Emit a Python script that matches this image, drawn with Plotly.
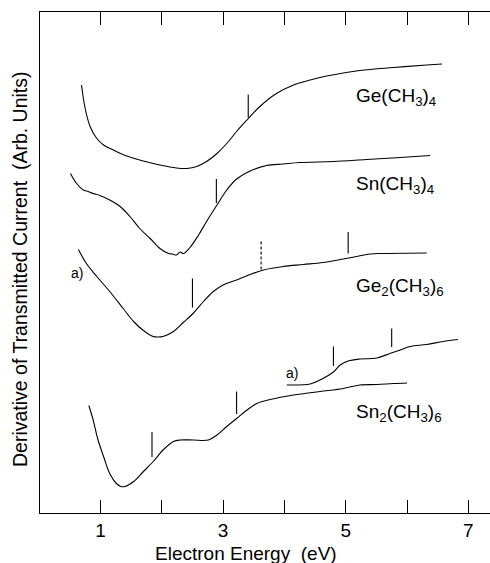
import plotly.graph_objects as go

# ---------------- data (energy in eV, signal in arbitrary units) ----------------
ge_me4_x = [0.69, 0.75, 0.83, 0.94, 1.05, 1.21, 1.43, 1.70, 1.97, 2.24, 2.41, 2.57, 2.73, 2.90,
            3.06, 3.22, 3.39, 3.60, 3.87, 4.15, 4.42, 4.69, 5.23, 5.78, 6.32, 6.57]
ge_me4_y = [8.56, 8.09, 7.73, 7.49, 7.36, 7.26, 7.14, 7.04, 6.96, 6.90, 6.89, 6.93, 7.03, 7.19,
            7.39, 7.63, 7.86, 8.13, 8.39, 8.56, 8.66, 8.74, 8.85, 8.91, 8.96, 8.98]

sn_me4_x = [0.51, 0.61, 0.72, 0.80, 0.88, 0.99, 1.15, 1.32, 1.48, 1.64, 1.81, 1.97, 2.11, 2.17,
            2.24, 2.30, 2.35, 2.46, 2.60, 2.73, 2.90, 3.06, 3.22, 3.44, 3.71, 3.98, 4.25, 4.80,
            5.34, 5.89, 6.38]
sn_me4_y = [6.79, 6.59, 6.46, 6.43, 6.39, 6.35, 6.26, 6.13, 5.93, 5.69, 5.49, 5.29, 5.19, 5.18,
            5.16, 5.22, 5.19, 5.31, 5.56, 5.83, 6.16, 6.46, 6.68, 6.84, 6.95, 6.98, 7.01, 7.03,
            7.07, 7.11, 7.15]

ge2_me6_x = [0.64, 0.77, 0.94, 1.15, 1.37, 1.54, 1.70, 1.86, 1.94, 2.02, 2.19, 2.35, 2.51, 2.68,
             2.84, 3.00, 3.22, 3.44, 3.66, 3.98, 4.31, 4.63, 4.91, 5.18, 5.40, 5.61, 6.32]
ge2_me6_y = [5.27, 4.99, 4.73, 4.43, 4.09, 3.83, 3.65, 3.53, 3.52, 3.53, 3.63, 3.81, 3.99, 4.23,
             4.43, 4.56, 4.66, 4.77, 4.86, 4.93, 4.97, 5.01, 5.07, 5.13, 5.18, 5.19, 5.20]

sn2_me6_x = [0.81, 0.88, 0.96, 1.05, 1.15, 1.26, 1.33, 1.40, 1.54, 1.70, 1.86, 2.02, 2.19, 2.30,
             2.51, 2.76, 2.90, 3.06, 3.22, 3.39, 3.55, 3.77, 4.15, 4.58, 4.96, 5.23, 5.51, 5.78,
             6.00]
sn2_me6_y = [2.15, 1.86, 1.46, 1.13, 0.79, 0.59, 0.53, 0.53, 0.63, 0.83, 1.03, 1.26, 1.43, 1.46,
             1.46, 1.46, 1.56, 1.73, 1.89, 2.06, 2.19, 2.27, 2.36, 2.43, 2.49, 2.56, 2.57, 2.59,
             2.60]

sn2_a_x = [4.04, 4.42, 4.58, 4.80, 4.91, 5.04, 5.23, 5.51, 5.72, 5.89, 6.05, 6.32, 6.59, 6.83]
sn2_a_y = [2.56, 2.58, 2.66, 2.82, 2.96, 3.04, 3.08, 3.10, 3.19, 3.26, 3.33, 3.37, 3.43, 3.47]

# vertical feature markers: energy, lower end, upper end
mark_x = [3.41, 2.89, 2.50, 5.04, 1.84, 3.22, 4.80, 5.75]
mark_y0 = [7.91, 6.20, 4.11, 5.19, 1.12, 1.98, 2.94, 3.32]
mark_y1 = [8.37, 6.68, 4.69, 5.62, 1.62, 2.43, 3.33, 3.69]
dash_x = [3.62]
dash_y0 = [4.87]
dash_y1 = [5.45]

curve_labels = ["Ge(CH<sub>3</sub>)<sub>4</sub>", "Sn(CH<sub>3</sub>)<sub>4</sub>",
                "Ge<sub>2</sub>(CH<sub>3</sub>)<sub>6</sub>", "Sn<sub>2</sub>(CH<sub>3</sub>)<sub>6</sub>"]
label_x = [5.13, 5.13, 5.13, 5.13]
label_y = [8.32, 6.56, 4.52, 2.01]

a_label_x = [0.62, 4.12]
a_label_y = [4.80, 2.81]

FONT = "Liberation Sans, Arial, Helvetica, sans-serif"

fig = go.Figure()
line_style = dict(color="black", width=1.1)
for xs, ys in [(ge_me4_x, ge_me4_y), (sn_me4_x, sn_me4_y), (ge2_me6_x, ge2_me6_y),
               (sn2_me6_x, sn2_me6_y), (sn2_a_x, sn2_a_y)]:
    fig.add_trace(go.Scatter(x=xs, y=ys, mode="lines", line=line_style,
                             line_shape="spline", showlegend=False, hoverinfo="skip"))

def seg(xs, y0s, y1s):
    X, Y = [], []
    for x, a, b in zip(xs, y0s, y1s):
        X += [x, x, None]
        Y += [a, b, None]
    return X, Y

mx, my = seg(mark_x, mark_y0, mark_y1)
fig.add_trace(go.Scatter(x=mx, y=my, mode="lines", line=dict(color="black", width=1.1),
                         showlegend=False, hoverinfo="skip"))
dx, dy = seg(dash_x, dash_y0, dash_y1)
fig.add_trace(go.Scatter(x=dx, y=dy, mode="lines",
                         line=dict(color="black", width=1.1, dash="3px,2px"),
                         showlegend=False, hoverinfo="skip"))

for t, x, y in zip(curve_labels, label_x, label_y):
    fig.add_annotation(x=x, y=y, text=t, showarrow=False, xanchor="left", yanchor="middle",
                       font=dict(family=FONT, size=19, color="black"))
for x, y in zip(a_label_x, a_label_y):
    fig.add_annotation(x=x, y=y, text="a)", showarrow=False, xanchor="center", yanchor="middle",
                       font=dict(family=FONT, size=14, color="black"))

fig.add_annotation(xref="paper", yref="paper", x=(246 - 40) / 450, y=-(553 - 513) / 501,
                   text="Electron Energy  (eV)", showarrow=False, xanchor="center",
                   yanchor="middle", font=dict(family=FONT, size=19, color="black"))
fig.add_annotation(xref="paper", yref="paper", x=-(40 - 20) / 450, y=(513 - 269) / 501,
                   text="Derivative of Transmitted Current  (Arb. Units)", showarrow=False,
                   textangle=-90, xanchor="center", yanchor="middle",
                   font=dict(family=FONT, size=19.5, color="black"))

fig.update_layout(
    width=490, height=563,
    margin=dict(l=40, r=0, t=12, b=50, autoexpand=False),
    paper_bgcolor="white", plot_bgcolor="white",
    font=dict(family=FONT, size=19, color="black"),
    xaxis=dict(range=[0.013, 7.354], tick0=1, dtick=1, ticklabelstep=2,
               ticks="inside", ticklen=13, tickwidth=1, tickcolor="black",
               showline=True, linecolor="black", linewidth=1, mirror="ticks",
               showgrid=False, zeroline=False, automargin=False,
               tickfont=dict(family=FONT, size=19, color="black")),
    yaxis=dict(range=[0, 10.02], showticklabels=False, ticks="",
               showline=True, linecolor="black", linewidth=1,
               showgrid=False, zeroline=False, automargin=False),
)

fig.write_html("out.html", config={"displayModeBar": False, "staticPlot": True},
               post_script="document.body.style.margin='0';document.body.style.padding='0';"
                           "document.body.style.overflow='hidden';")
